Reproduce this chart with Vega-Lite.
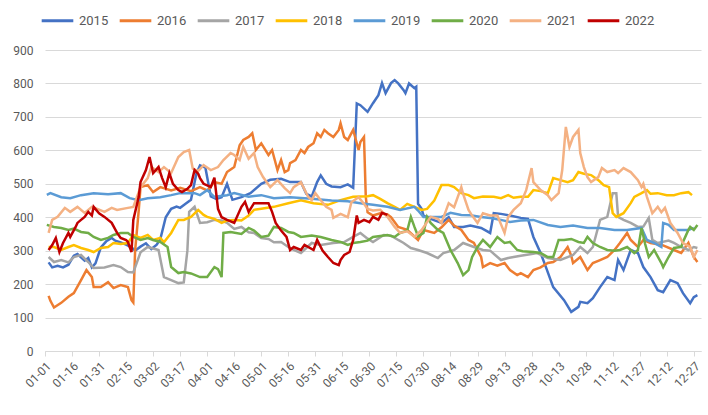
{
  "$schema": "https://vega.github.io/schema/vega-lite/v6.json",
  "width": 656,
  "height": 301,
  "padding": {"left": 12, "top": 3, "right": 0, "bottom": 0},
  "config": {
    "view": {"stroke": null},
    "font": "Roboto",
    "axis": {"labelFont": "Roboto", "labelColor": "#595959", "labelFontSize": 12},
    "legend": {"labelFont": "Roboto", "labelColor": "#595959", "labelFontSize": 13}
  },
  "data": {
    "format": {"parse": {"date": "utc:'%m-%d'"}},
    "values": [
      {"year": "2015", "date": "01-03", "value": 265},
      {"year": "2015", "date": "01-05", "value": 250},
      {"year": "2015", "date": "01-08", "value": 255},
      {"year": "2015", "date": "01-11", "value": 250},
      {"year": "2015", "date": "01-14", "value": 258},
      {"year": "2015", "date": "01-17", "value": 285},
      {"year": "2015", "date": "01-19", "value": 290},
      {"year": "2015", "date": "01-23", "value": 270},
      {"year": "2015", "date": "01-25", "value": 278},
      {"year": "2015", "date": "01-27", "value": 250},
      {"year": "2015", "date": "01-29", "value": 262},
      {"year": "2015", "date": "02-01", "value": 310},
      {"year": "2015", "date": "02-04", "value": 328},
      {"year": "2015", "date": "02-07", "value": 338},
      {"year": "2015", "date": "02-09", "value": 330},
      {"year": "2015", "date": "02-12", "value": 325},
      {"year": "2015", "date": "02-15", "value": 318},
      {"year": "2015", "date": "02-18", "value": 310},
      {"year": "2015", "date": "02-20", "value": 300},
      {"year": "2015", "date": "02-23", "value": 312},
      {"year": "2015", "date": "02-26", "value": 322},
      {"year": "2015", "date": "03-01", "value": 305},
      {"year": "2015", "date": "03-04", "value": 318},
      {"year": "2015", "date": "03-06", "value": 335},
      {"year": "2015", "date": "03-09", "value": 400},
      {"year": "2015", "date": "03-12", "value": 425},
      {"year": "2015", "date": "03-15", "value": 432},
      {"year": "2015", "date": "03-17", "value": 428},
      {"year": "2015", "date": "03-20", "value": 440},
      {"year": "2015", "date": "03-23", "value": 452},
      {"year": "2015", "date": "03-26", "value": 530},
      {"year": "2015", "date": "03-28", "value": 555},
      {"year": "2015", "date": "03-31", "value": 548},
      {"year": "2015", "date": "04-03", "value": 462},
      {"year": "2015", "date": "04-06", "value": 455},
      {"year": "2015", "date": "04-09", "value": 460},
      {"year": "2015", "date": "04-12", "value": 500},
      {"year": "2015", "date": "04-15", "value": 452},
      {"year": "2015", "date": "04-20", "value": 460},
      {"year": "2015", "date": "04-25", "value": 472},
      {"year": "2015", "date": "05-01", "value": 500},
      {"year": "2015", "date": "05-06", "value": 512},
      {"year": "2015", "date": "05-12", "value": 515},
      {"year": "2015", "date": "05-17", "value": 505},
      {"year": "2015", "date": "05-23", "value": 505},
      {"year": "2015", "date": "05-26", "value": 470},
      {"year": "2015", "date": "05-29", "value": 462},
      {"year": "2015", "date": "06-01", "value": 505},
      {"year": "2015", "date": "06-03", "value": 525},
      {"year": "2015", "date": "06-06", "value": 500},
      {"year": "2015", "date": "06-09", "value": 492},
      {"year": "2015", "date": "06-14", "value": 490},
      {"year": "2015", "date": "06-18", "value": 498},
      {"year": "2015", "date": "06-21", "value": 488},
      {"year": "2015", "date": "06-23", "value": 740},
      {"year": "2015", "date": "06-25", "value": 735},
      {"year": "2015", "date": "06-29", "value": 715},
      {"year": "2015", "date": "07-02", "value": 741},
      {"year": "2015", "date": "07-05", "value": 765},
      {"year": "2015", "date": "07-07", "value": 801},
      {"year": "2015", "date": "07-09", "value": 771},
      {"year": "2015", "date": "07-12", "value": 801},
      {"year": "2015", "date": "07-14", "value": 810},
      {"year": "2015", "date": "07-16", "value": 800},
      {"year": "2015", "date": "07-19", "value": 780},
      {"year": "2015", "date": "07-20", "value": 771},
      {"year": "2015", "date": "07-22", "value": 800},
      {"year": "2015", "date": "07-25", "value": 786},
      {"year": "2015", "date": "07-26", "value": 790},
      {"year": "2015", "date": "07-27", "value": 440},
      {"year": "2015", "date": "07-29", "value": 425},
      {"year": "2015", "date": "07-30", "value": 405},
      {"year": "2015", "date": "08-03", "value": 395},
      {"year": "2015", "date": "08-09", "value": 383},
      {"year": "2015", "date": "08-13", "value": 400},
      {"year": "2015", "date": "08-16", "value": 371},
      {"year": "2015", "date": "08-21", "value": 371},
      {"year": "2015", "date": "08-25", "value": 375},
      {"year": "2015", "date": "08-31", "value": 368},
      {"year": "2015", "date": "09-05", "value": 353},
      {"year": "2015", "date": "09-07", "value": 412},
      {"year": "2015", "date": "09-11", "value": 410},
      {"year": "2015", "date": "09-16", "value": 405},
      {"year": "2015", "date": "09-22", "value": 398},
      {"year": "2015", "date": "09-26", "value": 395},
      {"year": "2015", "date": "09-29", "value": 341},
      {"year": "2015", "date": "10-03", "value": 293},
      {"year": "2015", "date": "10-06", "value": 250},
      {"year": "2015", "date": "10-10", "value": 191},
      {"year": "2015", "date": "10-16", "value": 152},
      {"year": "2015", "date": "10-20", "value": 117},
      {"year": "2015", "date": "10-24", "value": 132},
      {"year": "2015", "date": "10-25", "value": 147},
      {"year": "2015", "date": "10-29", "value": 143},
      {"year": "2015", "date": "11-01", "value": 158},
      {"year": "2015", "date": "11-05", "value": 191},
      {"year": "2015", "date": "11-09", "value": 221},
      {"year": "2015", "date": "11-13", "value": 212},
      {"year": "2015", "date": "11-15", "value": 272},
      {"year": "2015", "date": "11-18", "value": 242},
      {"year": "2015", "date": "11-22", "value": 302},
      {"year": "2015", "date": "11-26", "value": 293},
      {"year": "2015", "date": "11-29", "value": 251},
      {"year": "2015", "date": "12-03", "value": 221},
      {"year": "2015", "date": "12-07", "value": 182},
      {"year": "2015", "date": "12-10", "value": 176},
      {"year": "2015", "date": "12-14", "value": 212},
      {"year": "2015", "date": "12-18", "value": 203},
      {"year": "2015", "date": "12-21", "value": 173},
      {"year": "2015", "date": "12-25", "value": 143},
      {"year": "2015", "date": "12-27", "value": 161},
      {"year": "2015", "date": "12-29", "value": 167},

      {"year": "2016", "date": "01-03", "value": 165},
      {"year": "2016", "date": "01-04", "value": 150},
      {"year": "2016", "date": "01-06", "value": 130},
      {"year": "2016", "date": "01-10", "value": 144},
      {"year": "2016", "date": "01-14", "value": 162},
      {"year": "2016", "date": "01-17", "value": 173},
      {"year": "2016", "date": "01-21", "value": 212},
      {"year": "2016", "date": "01-24", "value": 242},
      {"year": "2016", "date": "01-27", "value": 221},
      {"year": "2016", "date": "01-28", "value": 191},
      {"year": "2016", "date": "02-01", "value": 191},
      {"year": "2016", "date": "02-05", "value": 206},
      {"year": "2016", "date": "02-08", "value": 188},
      {"year": "2016", "date": "02-12", "value": 197},
      {"year": "2016", "date": "02-16", "value": 191},
      {"year": "2016", "date": "02-18", "value": 152},
      {"year": "2016", "date": "02-19", "value": 145},
      {"year": "2016", "date": "02-20", "value": 300},
      {"year": "2016", "date": "02-22", "value": 420},
      {"year": "2016", "date": "02-23", "value": 490},
      {"year": "2016", "date": "02-27", "value": 496},
      {"year": "2016", "date": "03-02", "value": 475},
      {"year": "2016", "date": "03-06", "value": 490},
      {"year": "2016", "date": "03-12", "value": 480},
      {"year": "2016", "date": "03-17", "value": 488},
      {"year": "2016", "date": "03-23", "value": 478},
      {"year": "2016", "date": "03-28", "value": 490},
      {"year": "2016", "date": "04-01", "value": 480},
      {"year": "2016", "date": "04-05", "value": 505},
      {"year": "2016", "date": "04-09", "value": 500},
      {"year": "2016", "date": "04-12", "value": 535},
      {"year": "2016", "date": "04-16", "value": 550},
      {"year": "2016", "date": "04-19", "value": 615},
      {"year": "2016", "date": "04-21", "value": 631},
      {"year": "2016", "date": "04-24", "value": 640},
      {"year": "2016", "date": "04-26", "value": 651},
      {"year": "2016", "date": "04-28", "value": 601},
      {"year": "2016", "date": "05-01", "value": 621},
      {"year": "2016", "date": "05-05", "value": 586},
      {"year": "2016", "date": "05-07", "value": 601},
      {"year": "2016", "date": "05-10", "value": 541},
      {"year": "2016", "date": "05-12", "value": 571},
      {"year": "2016", "date": "05-14", "value": 535},
      {"year": "2016", "date": "05-16", "value": 541},
      {"year": "2016", "date": "05-17", "value": 562},
      {"year": "2016", "date": "05-20", "value": 571},
      {"year": "2016", "date": "05-23", "value": 601},
      {"year": "2016", "date": "05-25", "value": 592},
      {"year": "2016", "date": "05-27", "value": 610},
      {"year": "2016", "date": "05-30", "value": 621},
      {"year": "2016", "date": "06-01", "value": 651},
      {"year": "2016", "date": "06-03", "value": 640},
      {"year": "2016", "date": "06-05", "value": 661},
      {"year": "2016", "date": "06-07", "value": 651},
      {"year": "2016", "date": "06-10", "value": 640},
      {"year": "2016", "date": "06-13", "value": 661},
      {"year": "2016", "date": "06-14", "value": 681},
      {"year": "2016", "date": "06-16", "value": 640},
      {"year": "2016", "date": "06-18", "value": 631},
      {"year": "2016", "date": "06-21", "value": 661},
      {"year": "2016", "date": "06-24", "value": 601},
      {"year": "2016", "date": "06-25", "value": 625},
      {"year": "2016", "date": "06-27", "value": 640},
      {"year": "2016", "date": "06-28", "value": 460},
      {"year": "2016", "date": "06-29", "value": 415},
      {"year": "2016", "date": "07-02", "value": 405},
      {"year": "2016", "date": "07-06", "value": 412},
      {"year": "2016", "date": "07-10", "value": 408},
      {"year": "2016", "date": "07-12", "value": 400},
      {"year": "2016", "date": "07-16", "value": 371},
      {"year": "2016", "date": "07-21", "value": 362},
      {"year": "2016", "date": "07-27", "value": 332},
      {"year": "2016", "date": "07-30", "value": 362},
      {"year": "2016", "date": "08-05", "value": 353},
      {"year": "2016", "date": "08-09", "value": 370},
      {"year": "2016", "date": "08-13", "value": 392},
      {"year": "2016", "date": "08-16", "value": 375},
      {"year": "2016", "date": "08-20", "value": 362},
      {"year": "2016", "date": "08-24", "value": 332},
      {"year": "2016", "date": "08-27", "value": 323},
      {"year": "2016", "date": "08-31", "value": 281},
      {"year": "2016", "date": "09-01", "value": 251},
      {"year": "2016", "date": "09-05", "value": 263},
      {"year": "2016", "date": "09-09", "value": 255},
      {"year": "2016", "date": "09-13", "value": 263},
      {"year": "2016", "date": "09-16", "value": 242},
      {"year": "2016", "date": "09-20", "value": 227},
      {"year": "2016", "date": "09-22", "value": 233},
      {"year": "2016", "date": "09-26", "value": 221},
      {"year": "2016", "date": "09-29", "value": 242},
      {"year": "2016", "date": "10-03", "value": 250},
      {"year": "2016", "date": "10-07", "value": 263},
      {"year": "2016", "date": "10-10", "value": 266},
      {"year": "2016", "date": "10-14", "value": 281},
      {"year": "2016", "date": "10-18", "value": 311},
      {"year": "2016", "date": "10-20", "value": 285},
      {"year": "2016", "date": "10-21", "value": 263},
      {"year": "2016", "date": "10-25", "value": 281},
      {"year": "2016", "date": "10-29", "value": 242},
      {"year": "2016", "date": "11-01", "value": 263},
      {"year": "2016", "date": "11-05", "value": 272},
      {"year": "2016", "date": "11-09", "value": 281},
      {"year": "2016", "date": "11-13", "value": 302},
      {"year": "2016", "date": "11-16", "value": 323},
      {"year": "2016", "date": "11-20", "value": 353},
      {"year": "2016", "date": "11-22", "value": 332},
      {"year": "2016", "date": "11-26", "value": 311},
      {"year": "2016", "date": "11-29", "value": 332},
      {"year": "2016", "date": "12-03", "value": 323},
      {"year": "2016", "date": "12-09", "value": 318},
      {"year": "2016", "date": "12-16", "value": 302},
      {"year": "2016", "date": "12-20", "value": 293},
      {"year": "2016", "date": "12-24", "value": 323},
      {"year": "2016", "date": "12-27", "value": 281},
      {"year": "2016", "date": "12-29", "value": 266},

      {"year": "2017", "date": "01-03", "value": 281},
      {"year": "2017", "date": "01-06", "value": 266},
      {"year": "2017", "date": "01-10", "value": 272},
      {"year": "2017", "date": "01-14", "value": 265},
      {"year": "2017", "date": "01-17", "value": 281},
      {"year": "2017", "date": "01-21", "value": 287},
      {"year": "2017", "date": "01-25", "value": 266},
      {"year": "2017", "date": "01-28", "value": 248},
      {"year": "2017", "date": "02-03", "value": 250},
      {"year": "2017", "date": "02-08", "value": 257},
      {"year": "2017", "date": "02-12", "value": 251},
      {"year": "2017", "date": "02-16", "value": 236},
      {"year": "2017", "date": "02-19", "value": 235},
      {"year": "2017", "date": "02-23", "value": 295},
      {"year": "2017", "date": "02-27", "value": 311},
      {"year": "2017", "date": "03-05", "value": 302},
      {"year": "2017", "date": "03-08", "value": 221},
      {"year": "2017", "date": "03-12", "value": 212},
      {"year": "2017", "date": "03-16", "value": 203},
      {"year": "2017", "date": "03-19", "value": 205},
      {"year": "2017", "date": "03-21", "value": 300},
      {"year": "2017", "date": "03-22", "value": 416},
      {"year": "2017", "date": "03-25", "value": 431},
      {"year": "2017", "date": "03-28", "value": 383},
      {"year": "2017", "date": "04-01", "value": 385},
      {"year": "2017", "date": "04-05", "value": 392},
      {"year": "2017", "date": "04-09", "value": 390},
      {"year": "2017", "date": "04-12", "value": 383},
      {"year": "2017", "date": "04-16", "value": 365},
      {"year": "2017", "date": "04-20", "value": 371},
      {"year": "2017", "date": "04-24", "value": 355},
      {"year": "2017", "date": "04-27", "value": 353},
      {"year": "2017", "date": "05-01", "value": 338},
      {"year": "2017", "date": "05-05", "value": 335},
      {"year": "2017", "date": "05-08", "value": 325},
      {"year": "2017", "date": "05-12", "value": 326},
      {"year": "2017", "date": "05-16", "value": 311},
      {"year": "2017", "date": "05-19", "value": 302},
      {"year": "2017", "date": "05-23", "value": 293},
      {"year": "2017", "date": "05-29", "value": 323},
      {"year": "2017", "date": "06-03", "value": 317},
      {"year": "2017", "date": "06-10", "value": 323},
      {"year": "2017", "date": "06-16", "value": 326},
      {"year": "2017", "date": "06-21", "value": 341},
      {"year": "2017", "date": "06-25", "value": 353},
      {"year": "2017", "date": "06-29", "value": 336},
      {"year": "2017", "date": "07-02", "value": 326},
      {"year": "2017", "date": "07-08", "value": 347},
      {"year": "2017", "date": "07-12", "value": 345},
      {"year": "2017", "date": "07-16", "value": 332},
      {"year": "2017", "date": "07-19", "value": 323},
      {"year": "2017", "date": "07-23", "value": 308},
      {"year": "2017", "date": "07-27", "value": 302},
      {"year": "2017", "date": "08-01", "value": 293},
      {"year": "2017", "date": "08-07", "value": 278},
      {"year": "2017", "date": "08-10", "value": 293},
      {"year": "2017", "date": "08-16", "value": 302},
      {"year": "2017", "date": "08-21", "value": 323},
      {"year": "2017", "date": "08-27", "value": 311},
      {"year": "2017", "date": "09-01", "value": 302},
      {"year": "2017", "date": "09-05", "value": 300},
      {"year": "2017", "date": "09-11", "value": 272},
      {"year": "2017", "date": "09-15", "value": 278},
      {"year": "2017", "date": "09-18", "value": 281},
      {"year": "2017", "date": "09-22", "value": 285},
      {"year": "2017", "date": "09-28", "value": 290},
      {"year": "2017", "date": "10-01", "value": 293},
      {"year": "2017", "date": "10-07", "value": 278},
      {"year": "2017", "date": "10-14", "value": 272},
      {"year": "2017", "date": "10-21", "value": 287},
      {"year": "2017", "date": "10-25", "value": 311},
      {"year": "2017", "date": "10-29", "value": 293},
      {"year": "2017", "date": "11-01", "value": 311},
      {"year": "2017", "date": "11-05", "value": 392},
      {"year": "2017", "date": "11-09", "value": 401},
      {"year": "2017", "date": "11-12", "value": 472},
      {"year": "2017", "date": "11-14", "value": 472},
      {"year": "2017", "date": "11-15", "value": 401},
      {"year": "2017", "date": "11-18", "value": 392},
      {"year": "2017", "date": "11-22", "value": 383},
      {"year": "2017", "date": "11-26", "value": 371},
      {"year": "2017", "date": "11-29", "value": 372},
      {"year": "2017", "date": "12-02", "value": 398},
      {"year": "2017", "date": "12-04", "value": 332},
      {"year": "2017", "date": "12-07", "value": 323},
      {"year": "2017", "date": "12-13", "value": 330},
      {"year": "2017", "date": "12-16", "value": 323},
      {"year": "2017", "date": "12-20", "value": 311},
      {"year": "2017", "date": "12-24", "value": 302},
      {"year": "2017", "date": "12-27", "value": 311},
      {"year": "2017", "date": "12-29", "value": 308},

      {"year": "2018", "date": "01-03", "value": 311},
      {"year": "2018", "date": "01-06", "value": 311},
      {"year": "2018", "date": "01-10", "value": 302},
      {"year": "2018", "date": "01-14", "value": 311},
      {"year": "2018", "date": "01-17", "value": 317},
      {"year": "2018", "date": "01-21", "value": 308},
      {"year": "2018", "date": "01-25", "value": 302},
      {"year": "2018", "date": "01-28", "value": 296},
      {"year": "2018", "date": "02-01", "value": 308},
      {"year": "2018", "date": "02-05", "value": 311},
      {"year": "2018", "date": "02-08", "value": 323},
      {"year": "2018", "date": "02-12", "value": 320},
      {"year": "2018", "date": "02-16", "value": 323},
      {"year": "2018", "date": "02-19", "value": 347},
      {"year": "2018", "date": "02-23", "value": 338},
      {"year": "2018", "date": "02-27", "value": 347},
      {"year": "2018", "date": "03-02", "value": 332},
      {"year": "2018", "date": "03-06", "value": 338},
      {"year": "2018", "date": "03-08", "value": 325},
      {"year": "2018", "date": "03-12", "value": 353},
      {"year": "2018", "date": "03-16", "value": 392},
      {"year": "2018", "date": "03-19", "value": 392},
      {"year": "2018", "date": "03-23", "value": 401},
      {"year": "2018", "date": "03-27", "value": 422},
      {"year": "2018", "date": "03-30", "value": 407},
      {"year": "2018", "date": "04-01", "value": 401},
      {"year": "2018", "date": "04-05", "value": 395},
      {"year": "2018", "date": "04-09", "value": 383},
      {"year": "2018", "date": "04-12", "value": 390},
      {"year": "2018", "date": "04-16", "value": 392},
      {"year": "2018", "date": "04-20", "value": 390},
      {"year": "2018", "date": "04-24", "value": 405},
      {"year": "2018", "date": "04-27", "value": 422},
      {"year": "2018", "date": "05-01", "value": 425},
      {"year": "2018", "date": "05-08", "value": 431},
      {"year": "2018", "date": "05-16", "value": 442},
      {"year": "2018", "date": "05-23", "value": 451},
      {"year": "2018", "date": "05-30", "value": 442},
      {"year": "2018", "date": "06-07", "value": 437},
      {"year": "2018", "date": "06-14", "value": 451},
      {"year": "2018", "date": "06-21", "value": 461},
      {"year": "2018", "date": "06-29", "value": 463},
      {"year": "2018", "date": "07-02", "value": 466},
      {"year": "2018", "date": "07-06", "value": 455},
      {"year": "2018", "date": "07-10", "value": 442},
      {"year": "2018", "date": "07-14", "value": 431},
      {"year": "2018", "date": "07-17", "value": 422},
      {"year": "2018", "date": "07-21", "value": 440},
      {"year": "2018", "date": "07-25", "value": 431},
      {"year": "2018", "date": "07-29", "value": 422},
      {"year": "2018", "date": "08-01", "value": 425},
      {"year": "2018", "date": "08-05", "value": 450},
      {"year": "2018", "date": "08-09", "value": 496},
      {"year": "2018", "date": "08-13", "value": 496},
      {"year": "2018", "date": "08-16", "value": 490},
      {"year": "2018", "date": "08-20", "value": 472},
      {"year": "2018", "date": "08-24", "value": 466},
      {"year": "2018", "date": "08-27", "value": 457},
      {"year": "2018", "date": "09-01", "value": 462},
      {"year": "2018", "date": "09-07", "value": 461},
      {"year": "2018", "date": "09-11", "value": 457},
      {"year": "2018", "date": "09-15", "value": 466},
      {"year": "2018", "date": "09-18", "value": 458},
      {"year": "2018", "date": "09-22", "value": 461},
      {"year": "2018", "date": "09-26", "value": 461},
      {"year": "2018", "date": "09-29", "value": 481},
      {"year": "2018", "date": "10-03", "value": 478},
      {"year": "2018", "date": "10-07", "value": 472},
      {"year": "2018", "date": "10-10", "value": 517},
      {"year": "2018", "date": "10-14", "value": 511},
      {"year": "2018", "date": "10-18", "value": 505},
      {"year": "2018", "date": "10-21", "value": 511},
      {"year": "2018", "date": "10-24", "value": 535},
      {"year": "2018", "date": "10-27", "value": 530},
      {"year": "2018", "date": "10-31", "value": 526},
      {"year": "2018", "date": "11-04", "value": 511},
      {"year": "2018", "date": "11-07", "value": 496},
      {"year": "2018", "date": "11-10", "value": 490},
      {"year": "2018", "date": "11-12", "value": 412},
      {"year": "2018", "date": "11-14", "value": 401},
      {"year": "2018", "date": "11-18", "value": 412},
      {"year": "2018", "date": "11-22", "value": 442},
      {"year": "2018", "date": "11-24", "value": 461},
      {"year": "2018", "date": "11-28", "value": 472},
      {"year": "2018", "date": "12-01", "value": 481},
      {"year": "2018", "date": "12-03", "value": 470},
      {"year": "2018", "date": "12-07", "value": 472},
      {"year": "2018", "date": "12-12", "value": 466},
      {"year": "2018", "date": "12-16", "value": 466},
      {"year": "2018", "date": "12-20", "value": 472},
      {"year": "2018", "date": "12-24", "value": 475},
      {"year": "2018", "date": "12-26", "value": 466},

      {"year": "2019", "date": "01-02", "value": 467},
      {"year": "2019", "date": "01-04", "value": 472},
      {"year": "2019", "date": "01-10", "value": 460},
      {"year": "2019", "date": "01-15", "value": 457},
      {"year": "2019", "date": "01-21", "value": 466},
      {"year": "2019", "date": "01-28", "value": 472},
      {"year": "2019", "date": "02-05", "value": 469},
      {"year": "2019", "date": "02-12", "value": 472},
      {"year": "2019", "date": "02-17", "value": 457},
      {"year": "2019", "date": "02-22", "value": 451},
      {"year": "2019", "date": "02-27", "value": 457},
      {"year": "2019", "date": "03-06", "value": 460},
      {"year": "2019", "date": "03-12", "value": 466},
      {"year": "2019", "date": "03-17", "value": 472},
      {"year": "2019", "date": "03-25", "value": 472},
      {"year": "2019", "date": "03-28", "value": 466},
      {"year": "2019", "date": "04-01", "value": 481},
      {"year": "2019", "date": "04-05", "value": 461},
      {"year": "2019", "date": "04-12", "value": 466},
      {"year": "2019", "date": "04-16", "value": 472},
      {"year": "2019", "date": "04-24", "value": 461},
      {"year": "2019", "date": "05-01", "value": 466},
      {"year": "2019", "date": "05-08", "value": 457},
      {"year": "2019", "date": "05-17", "value": 460},
      {"year": "2019", "date": "05-29", "value": 455},
      {"year": "2019", "date": "06-09", "value": 450},
      {"year": "2019", "date": "06-18", "value": 448},
      {"year": "2019", "date": "06-25", "value": 442},
      {"year": "2019", "date": "07-02", "value": 437},
      {"year": "2019", "date": "07-10", "value": 431},
      {"year": "2019", "date": "07-17", "value": 422},
      {"year": "2019", "date": "07-25", "value": 431},
      {"year": "2019", "date": "07-27", "value": 420},
      {"year": "2019", "date": "07-30", "value": 401},
      {"year": "2019", "date": "08-09", "value": 401},
      {"year": "2019", "date": "08-14", "value": 413},
      {"year": "2019", "date": "08-20", "value": 407},
      {"year": "2019", "date": "08-25", "value": 406},
      {"year": "2019", "date": "08-31", "value": 401},
      {"year": "2019", "date": "09-05", "value": 398},
      {"year": "2019", "date": "09-11", "value": 392},
      {"year": "2019", "date": "09-16", "value": 386},
      {"year": "2019", "date": "09-22", "value": 390},
      {"year": "2019", "date": "09-29", "value": 392},
      {"year": "2019", "date": "10-07", "value": 377},
      {"year": "2019", "date": "10-14", "value": 371},
      {"year": "2019", "date": "10-21", "value": 375},
      {"year": "2019", "date": "10-29", "value": 368},
      {"year": "2019", "date": "11-05", "value": 368},
      {"year": "2019", "date": "11-13", "value": 362},
      {"year": "2019", "date": "11-20", "value": 362},
      {"year": "2019", "date": "11-28", "value": 368},
      {"year": "2019", "date": "12-01", "value": 332},
      {"year": "2019", "date": "12-05", "value": 323},
      {"year": "2019", "date": "12-09", "value": 311},
      {"year": "2019", "date": "12-10", "value": 383},
      {"year": "2019", "date": "12-13", "value": 377},
      {"year": "2019", "date": "12-16", "value": 362},
      {"year": "2019", "date": "12-20", "value": 362},
      {"year": "2019", "date": "12-24", "value": 362},
      {"year": "2019", "date": "12-27", "value": 368},

      {"year": "2020", "date": "01-02", "value": 377},
      {"year": "2020", "date": "01-06", "value": 371},
      {"year": "2020", "date": "01-10", "value": 368},
      {"year": "2020", "date": "01-14", "value": 362},
      {"year": "2020", "date": "01-17", "value": 366},
      {"year": "2020", "date": "01-21", "value": 356},
      {"year": "2020", "date": "01-25", "value": 353},
      {"year": "2020", "date": "01-28", "value": 341},
      {"year": "2020", "date": "02-01", "value": 332},
      {"year": "2020", "date": "02-05", "value": 338},
      {"year": "2020", "date": "02-08", "value": 347},
      {"year": "2020", "date": "02-12", "value": 353},
      {"year": "2020", "date": "02-16", "value": 353},
      {"year": "2020", "date": "02-19", "value": 341},
      {"year": "2020", "date": "02-23", "value": 332},
      {"year": "2020", "date": "02-27", "value": 338},
      {"year": "2020", "date": "03-02", "value": 332},
      {"year": "2020", "date": "03-06", "value": 326},
      {"year": "2020", "date": "03-10", "value": 311},
      {"year": "2020", "date": "03-12", "value": 251},
      {"year": "2020", "date": "03-16", "value": 233},
      {"year": "2020", "date": "03-19", "value": 236},
      {"year": "2020", "date": "03-23", "value": 232},
      {"year": "2020", "date": "03-28", "value": 221},
      {"year": "2020", "date": "04-01", "value": 221},
      {"year": "2020", "date": "04-05", "value": 251},
      {"year": "2020", "date": "04-07", "value": 245},
      {"year": "2020", "date": "04-09", "value": 221},
      {"year": "2020", "date": "04-10", "value": 353},
      {"year": "2020", "date": "04-14", "value": 356},
      {"year": "2020", "date": "04-20", "value": 350},
      {"year": "2020", "date": "04-24", "value": 368},
      {"year": "2020", "date": "04-27", "value": 360},
      {"year": "2020", "date": "05-01", "value": 341},
      {"year": "2020", "date": "05-05", "value": 345},
      {"year": "2020", "date": "05-08", "value": 371},
      {"year": "2020", "date": "05-12", "value": 368},
      {"year": "2020", "date": "05-16", "value": 356},
      {"year": "2020", "date": "05-19", "value": 353},
      {"year": "2020", "date": "05-23", "value": 341},
      {"year": "2020", "date": "05-29", "value": 345},
      {"year": "2020", "date": "06-03", "value": 341},
      {"year": "2020", "date": "06-09", "value": 332},
      {"year": "2020", "date": "06-14", "value": 326},
      {"year": "2020", "date": "06-18", "value": 317},
      {"year": "2020", "date": "06-21", "value": 323},
      {"year": "2020", "date": "06-25", "value": 326},
      {"year": "2020", "date": "06-29", "value": 330},
      {"year": "2020", "date": "07-02", "value": 341},
      {"year": "2020", "date": "07-06", "value": 344},
      {"year": "2020", "date": "07-10", "value": 347},
      {"year": "2020", "date": "07-14", "value": 341},
      {"year": "2020", "date": "07-17", "value": 353},
      {"year": "2020", "date": "07-21", "value": 360},
      {"year": "2020", "date": "07-23", "value": 401},
      {"year": "2020", "date": "07-25", "value": 371},
      {"year": "2020", "date": "07-27", "value": 343},
      {"year": "2020", "date": "07-30", "value": 353},
      {"year": "2020", "date": "08-01", "value": 401},
      {"year": "2020", "date": "08-03", "value": 383},
      {"year": "2020", "date": "08-07", "value": 362},
      {"year": "2020", "date": "08-10", "value": 353},
      {"year": "2020", "date": "08-14", "value": 302},
      {"year": "2020", "date": "08-18", "value": 263},
      {"year": "2020", "date": "08-21", "value": 227},
      {"year": "2020", "date": "08-24", "value": 242},
      {"year": "2020", "date": "08-26", "value": 281},
      {"year": "2020", "date": "08-29", "value": 311},
      {"year": "2020", "date": "09-01", "value": 332},
      {"year": "2020", "date": "09-05", "value": 311},
      {"year": "2020", "date": "09-09", "value": 341},
      {"year": "2020", "date": "09-13", "value": 323},
      {"year": "2020", "date": "09-16", "value": 326},
      {"year": "2020", "date": "09-20", "value": 302},
      {"year": "2020", "date": "09-23", "value": 298},
      {"year": "2020", "date": "09-29", "value": 296},
      {"year": "2020", "date": "10-03", "value": 293},
      {"year": "2020", "date": "10-07", "value": 281},
      {"year": "2020", "date": "10-10", "value": 281},
      {"year": "2020", "date": "10-13", "value": 332},
      {"year": "2020", "date": "10-16", "value": 332},
      {"year": "2020", "date": "10-20", "value": 335},
      {"year": "2020", "date": "10-24", "value": 326},
      {"year": "2020", "date": "10-27", "value": 323},
      {"year": "2020", "date": "10-29", "value": 341},
      {"year": "2020", "date": "11-01", "value": 323},
      {"year": "2020", "date": "11-05", "value": 311},
      {"year": "2020", "date": "11-09", "value": 302},
      {"year": "2020", "date": "11-13", "value": 300},
      {"year": "2020", "date": "11-16", "value": 302},
      {"year": "2020", "date": "11-20", "value": 311},
      {"year": "2020", "date": "11-24", "value": 293},
      {"year": "2020", "date": "11-26", "value": 302},
      {"year": "2020", "date": "11-28", "value": 368},
      {"year": "2020", "date": "11-30", "value": 320},
      {"year": "2020", "date": "12-02", "value": 281},
      {"year": "2020", "date": "12-05", "value": 302},
      {"year": "2020", "date": "12-09", "value": 263},
      {"year": "2020", "date": "12-10", "value": 251},
      {"year": "2020", "date": "12-13", "value": 281},
      {"year": "2020", "date": "12-16", "value": 308},
      {"year": "2020", "date": "12-20", "value": 311},
      {"year": "2020", "date": "12-21", "value": 326},
      {"year": "2020", "date": "12-24", "value": 362},
      {"year": "2020", "date": "12-25", "value": 371},
      {"year": "2020", "date": "12-27", "value": 362},
      {"year": "2020", "date": "12-29", "value": 377},

      {"year": "2021", "date": "01-03", "value": 353},
      {"year": "2021", "date": "01-05", "value": 392},
      {"year": "2021", "date": "01-08", "value": 401},
      {"year": "2021", "date": "01-12", "value": 428},
      {"year": "2021", "date": "01-15", "value": 416},
      {"year": "2021", "date": "01-19", "value": 431},
      {"year": "2021", "date": "01-23", "value": 413},
      {"year": "2021", "date": "01-27", "value": 431},
      {"year": "2021", "date": "01-30", "value": 425},
      {"year": "2021", "date": "02-03", "value": 416},
      {"year": "2021", "date": "02-07", "value": 428},
      {"year": "2021", "date": "02-10", "value": 422},
      {"year": "2021", "date": "02-16", "value": 428},
      {"year": "2021", "date": "02-19", "value": 431},
      {"year": "2021", "date": "02-23", "value": 490},
      {"year": "2021", "date": "02-27", "value": 517},
      {"year": "2021", "date": "03-01", "value": 550},
      {"year": "2021", "date": "03-05", "value": 535},
      {"year": "2021", "date": "03-08", "value": 550},
      {"year": "2021", "date": "03-12", "value": 532},
      {"year": "2021", "date": "03-16", "value": 580},
      {"year": "2021", "date": "03-19", "value": 595},
      {"year": "2021", "date": "03-22", "value": 601},
      {"year": "2021", "date": "03-24", "value": 545},
      {"year": "2021", "date": "03-27", "value": 538},
      {"year": "2021", "date": "03-30", "value": 556},
      {"year": "2021", "date": "04-03", "value": 541},
      {"year": "2021", "date": "04-07", "value": 550},
      {"year": "2021", "date": "04-10", "value": 571},
      {"year": "2021", "date": "04-14", "value": 592},
      {"year": "2021", "date": "04-16", "value": 586},
      {"year": "2021", "date": "04-19", "value": 571},
      {"year": "2021", "date": "04-21", "value": 610},
      {"year": "2021", "date": "04-24", "value": 575},
      {"year": "2021", "date": "04-27", "value": 592},
      {"year": "2021", "date": "04-29", "value": 550},
      {"year": "2021", "date": "05-02", "value": 520},
      {"year": "2021", "date": "05-06", "value": 490},
      {"year": "2021", "date": "05-10", "value": 511},
      {"year": "2021", "date": "05-14", "value": 487},
      {"year": "2021", "date": "05-17", "value": 472},
      {"year": "2021", "date": "05-19", "value": 490},
      {"year": "2021", "date": "05-23", "value": 505},
      {"year": "2021", "date": "05-27", "value": 461},
      {"year": "2021", "date": "05-29", "value": 451},
      {"year": "2021", "date": "05-31", "value": 472},
      {"year": "2021", "date": "06-03", "value": 451},
      {"year": "2021", "date": "06-06", "value": 431},
      {"year": "2021", "date": "06-09", "value": 422},
      {"year": "2021", "date": "06-10", "value": 398},
      {"year": "2021", "date": "06-14", "value": 410},
      {"year": "2021", "date": "06-18", "value": 400},
      {"year": "2021", "date": "06-20", "value": 445},
      {"year": "2021", "date": "06-24", "value": 460},
      {"year": "2021", "date": "06-27", "value": 440},
      {"year": "2021", "date": "06-29", "value": 425},
      {"year": "2021", "date": "07-02", "value": 420},
      {"year": "2021", "date": "07-06", "value": 422},
      {"year": "2021", "date": "07-10", "value": 401},
      {"year": "2021", "date": "07-14", "value": 371},
      {"year": "2021", "date": "07-17", "value": 353},
      {"year": "2021", "date": "07-21", "value": 358},
      {"year": "2021", "date": "07-25", "value": 341},
      {"year": "2021", "date": "07-29", "value": 362},
      {"year": "2021", "date": "08-03", "value": 401},
      {"year": "2021", "date": "08-07", "value": 395},
      {"year": "2021", "date": "08-09", "value": 383},
      {"year": "2021", "date": "08-13", "value": 442},
      {"year": "2021", "date": "08-16", "value": 430},
      {"year": "2021", "date": "08-20", "value": 490},
      {"year": "2021", "date": "08-21", "value": 470},
      {"year": "2021", "date": "08-24", "value": 422},
      {"year": "2021", "date": "08-26", "value": 405},
      {"year": "2021", "date": "08-29", "value": 383},
      {"year": "2021", "date": "09-01", "value": 412},
      {"year": "2021", "date": "09-05", "value": 405},
      {"year": "2021", "date": "09-09", "value": 405},
      {"year": "2021", "date": "09-13", "value": 353},
      {"year": "2021", "date": "09-15", "value": 401},
      {"year": "2021", "date": "09-18", "value": 422},
      {"year": "2021", "date": "09-22", "value": 442},
      {"year": "2021", "date": "09-25", "value": 481},
      {"year": "2021", "date": "09-28", "value": 547},
      {"year": "2021", "date": "09-29", "value": 505},
      {"year": "2021", "date": "10-03", "value": 481},
      {"year": "2021", "date": "10-07", "value": 466},
      {"year": "2021", "date": "10-09", "value": 451},
      {"year": "2021", "date": "10-13", "value": 472},
      {"year": "2021", "date": "10-15", "value": 541},
      {"year": "2021", "date": "10-17", "value": 670},
      {"year": "2021", "date": "10-19", "value": 610},
      {"year": "2021", "date": "10-21", "value": 640},
      {"year": "2021", "date": "10-24", "value": 661},
      {"year": "2021", "date": "10-25", "value": 592},
      {"year": "2021", "date": "10-27", "value": 550},
      {"year": "2021", "date": "10-29", "value": 520},
      {"year": "2021", "date": "10-31", "value": 505},
      {"year": "2021", "date": "11-04", "value": 520},
      {"year": "2021", "date": "11-06", "value": 547},
      {"year": "2021", "date": "11-09", "value": 535},
      {"year": "2021", "date": "11-13", "value": 541},
      {"year": "2021", "date": "11-15", "value": 532},
      {"year": "2021", "date": "11-18", "value": 547},
      {"year": "2021", "date": "11-22", "value": 535},
      {"year": "2021", "date": "11-26", "value": 511},
      {"year": "2021", "date": "11-28", "value": 490},
      {"year": "2021", "date": "11-29", "value": 500},
      {"year": "2021", "date": "12-01", "value": 461},
      {"year": "2021", "date": "12-04", "value": 412},
      {"year": "2021", "date": "12-07", "value": 431},
      {"year": "2021", "date": "12-09", "value": 415},
      {"year": "2021", "date": "12-11", "value": 428},
      {"year": "2021", "date": "12-14", "value": 383},
      {"year": "2021", "date": "12-18", "value": 353},
      {"year": "2021", "date": "12-21", "value": 323},
      {"year": "2021", "date": "12-25", "value": 311},
      {"year": "2021", "date": "12-27", "value": 281},
      {"year": "2021", "date": "12-29", "value": 302},

      {"year": "2022", "date": "01-03", "value": 302},
      {"year": "2022", "date": "01-05", "value": 317},
      {"year": "2022", "date": "01-07", "value": 338},
      {"year": "2022", "date": "01-09", "value": 296},
      {"year": "2022", "date": "01-11", "value": 323},
      {"year": "2022", "date": "01-14", "value": 353},
      {"year": "2022", "date": "01-15", "value": 341},
      {"year": "2022", "date": "01-18", "value": 371},
      {"year": "2022", "date": "01-19", "value": 383},
      {"year": "2022", "date": "01-21", "value": 392},
      {"year": "2022", "date": "01-23", "value": 401},
      {"year": "2022", "date": "01-25", "value": 416},
      {"year": "2022", "date": "01-27", "value": 405},
      {"year": "2022", "date": "01-28", "value": 431},
      {"year": "2022", "date": "01-31", "value": 412},
      {"year": "2022", "date": "02-03", "value": 401},
      {"year": "2022", "date": "02-07", "value": 383},
      {"year": "2022", "date": "02-10", "value": 353},
      {"year": "2022", "date": "02-12", "value": 338},
      {"year": "2022", "date": "02-15", "value": 332},
      {"year": "2022", "date": "02-16", "value": 326},
      {"year": "2022", "date": "02-18", "value": 296},
      {"year": "2022", "date": "02-19", "value": 392},
      {"year": "2022", "date": "02-22", "value": 461},
      {"year": "2022", "date": "02-23", "value": 505},
      {"year": "2022", "date": "02-26", "value": 541},
      {"year": "2022", "date": "02-28", "value": 580},
      {"year": "2022", "date": "03-02", "value": 532},
      {"year": "2022", "date": "03-05", "value": 550},
      {"year": "2022", "date": "03-07", "value": 517},
      {"year": "2022", "date": "03-09", "value": 490},
      {"year": "2022", "date": "03-11", "value": 532},
      {"year": "2022", "date": "03-13", "value": 500},
      {"year": "2022", "date": "03-16", "value": 481},
      {"year": "2022", "date": "03-18", "value": 475},
      {"year": "2022", "date": "03-21", "value": 485},
      {"year": "2022", "date": "03-23", "value": 496},
      {"year": "2022", "date": "03-25", "value": 541},
      {"year": "2022", "date": "03-27", "value": 530},
      {"year": "2022", "date": "03-28", "value": 517},
      {"year": "2022", "date": "03-30", "value": 500},
      {"year": "2022", "date": "04-01", "value": 495},
      {"year": "2022", "date": "04-03", "value": 490},
      {"year": "2022", "date": "04-05", "value": 518},
      {"year": "2022", "date": "04-07", "value": 425},
      {"year": "2022", "date": "04-09", "value": 400},
      {"year": "2022", "date": "04-12", "value": 392},
      {"year": "2022", "date": "04-16", "value": 383},
      {"year": "2022", "date": "04-20", "value": 431},
      {"year": "2022", "date": "04-22", "value": 446},
      {"year": "2022", "date": "04-24", "value": 416},
      {"year": "2022", "date": "04-27", "value": 442},
      {"year": "2022", "date": "05-01", "value": 442},
      {"year": "2022", "date": "05-05", "value": 442},
      {"year": "2022", "date": "05-07", "value": 416},
      {"year": "2022", "date": "05-09", "value": 383},
      {"year": "2022", "date": "05-12", "value": 360},
      {"year": "2022", "date": "05-15", "value": 341},
      {"year": "2022", "date": "05-17", "value": 302},
      {"year": "2022", "date": "05-19", "value": 311},
      {"year": "2022", "date": "05-23", "value": 302},
      {"year": "2022", "date": "05-25", "value": 317},
      {"year": "2022", "date": "05-30", "value": 302},
      {"year": "2022", "date": "06-01", "value": 332},
      {"year": "2022", "date": "06-04", "value": 300},
      {"year": "2022", "date": "06-07", "value": 281},
      {"year": "2022", "date": "06-10", "value": 263},
      {"year": "2022", "date": "06-13", "value": 257},
      {"year": "2022", "date": "06-14", "value": 272},
      {"year": "2022", "date": "06-16", "value": 287},
      {"year": "2022", "date": "06-19", "value": 296},
      {"year": "2022", "date": "06-21", "value": 332},
      {"year": "2022", "date": "06-23", "value": 405},
      {"year": "2022", "date": "06-24", "value": 383},
      {"year": "2022", "date": "06-27", "value": 392},
      {"year": "2022", "date": "06-30", "value": 385},
      {"year": "2022", "date": "07-02", "value": 401},
      {"year": "2022", "date": "07-05", "value": 392},
      {"year": "2022", "date": "07-07", "value": 413},
      {"year": "2022", "date": "07-10", "value": 407}
    ]
  },
  "mark": {"type": "line", "strokeWidth": 2.5, "interpolate": "linear"},
  "encoding": {
    "x": {
      "field": "date",
      "type": "temporal",
      "scale": {
        "type": "utc",
        "domain": [
          {"year": 1900, "month": 1, "date": 1, "utc": true},
          {"year": 1900, "month": 12, "date": 31, "utc": true}
        ]
      },
      "axis": {
        "title": null,
        "format": "%m-%d",
        "labelAngle": -45,
        "grid": false,
        "domainColor": "#D9D9D9",
        "tickColor": "#D9D9D9",
        "tickSize": 5,
        "labelPadding": 4,
        "labelOverlap": false,
        "values": [
          {"year": 1900, "month": 1, "date": 1, "utc": true},
          {"year": 1900, "month": 1, "date": 16, "utc": true},
          {"year": 1900, "month": 1, "date": 31, "utc": true},
          {"year": 1900, "month": 2, "date": 15, "utc": true},
          {"year": 1900, "month": 3, "date": 2, "utc": true},
          {"year": 1900, "month": 3, "date": 17, "utc": true},
          {"year": 1900, "month": 4, "date": 1, "utc": true},
          {"year": 1900, "month": 4, "date": 16, "utc": true},
          {"year": 1900, "month": 5, "date": 1, "utc": true},
          {"year": 1900, "month": 5, "date": 16, "utc": true},
          {"year": 1900, "month": 5, "date": 31, "utc": true},
          {"year": 1900, "month": 6, "date": 15, "utc": true},
          {"year": 1900, "month": 6, "date": 30, "utc": true},
          {"year": 1900, "month": 7, "date": 15, "utc": true},
          {"year": 1900, "month": 7, "date": 30, "utc": true},
          {"year": 1900, "month": 8, "date": 14, "utc": true},
          {"year": 1900, "month": 8, "date": 29, "utc": true},
          {"year": 1900, "month": 9, "date": 13, "utc": true},
          {"year": 1900, "month": 9, "date": 28, "utc": true},
          {"year": 1900, "month": 10, "date": 13, "utc": true},
          {"year": 1900, "month": 10, "date": 28, "utc": true},
          {"year": 1900, "month": 11, "date": 12, "utc": true},
          {"year": 1900, "month": 11, "date": 27, "utc": true},
          {"year": 1900, "month": 12, "date": 12, "utc": true},
          {"year": 1900, "month": 12, "date": 27, "utc": true}
        ]
      }
    },
    "y": {
      "field": "value",
      "type": "quantitative",
      "scale": {"domain": [0, 900], "nice": false},
      "axis": {
        "title": null,
        "values": [0, 100, 200, 300, 400, 500, 600, 700, 800, 900],
        "grid": true,
        "gridColor": "#D9D9D9",
        "domain": false,
        "ticks": false,
        "labelPadding": 12
      }
    },
    "color": {
      "field": "year",
      "type": "nominal",
      "scale": {
        "domain": ["2015", "2016", "2017", "2018", "2019", "2020", "2021", "2022"],
        "range": ["#4472C4", "#ED7D31", "#A5A5A5", "#FFC000", "#5B9BD5", "#70AD47", "#F4B183", "#C00000"]
      },
      "legend": {
        "title": null,
        "orient": "none",
        "direction": "horizontal",
        "legendX": -5,
        "legendY": -47,
        "symbolType": "stroke",
        "symbolSize": 1000,
        "symbolStrokeWidth": 3,
        "labelOffset": 4,
        "columnPadding": 4
      }
    }
  }
}
